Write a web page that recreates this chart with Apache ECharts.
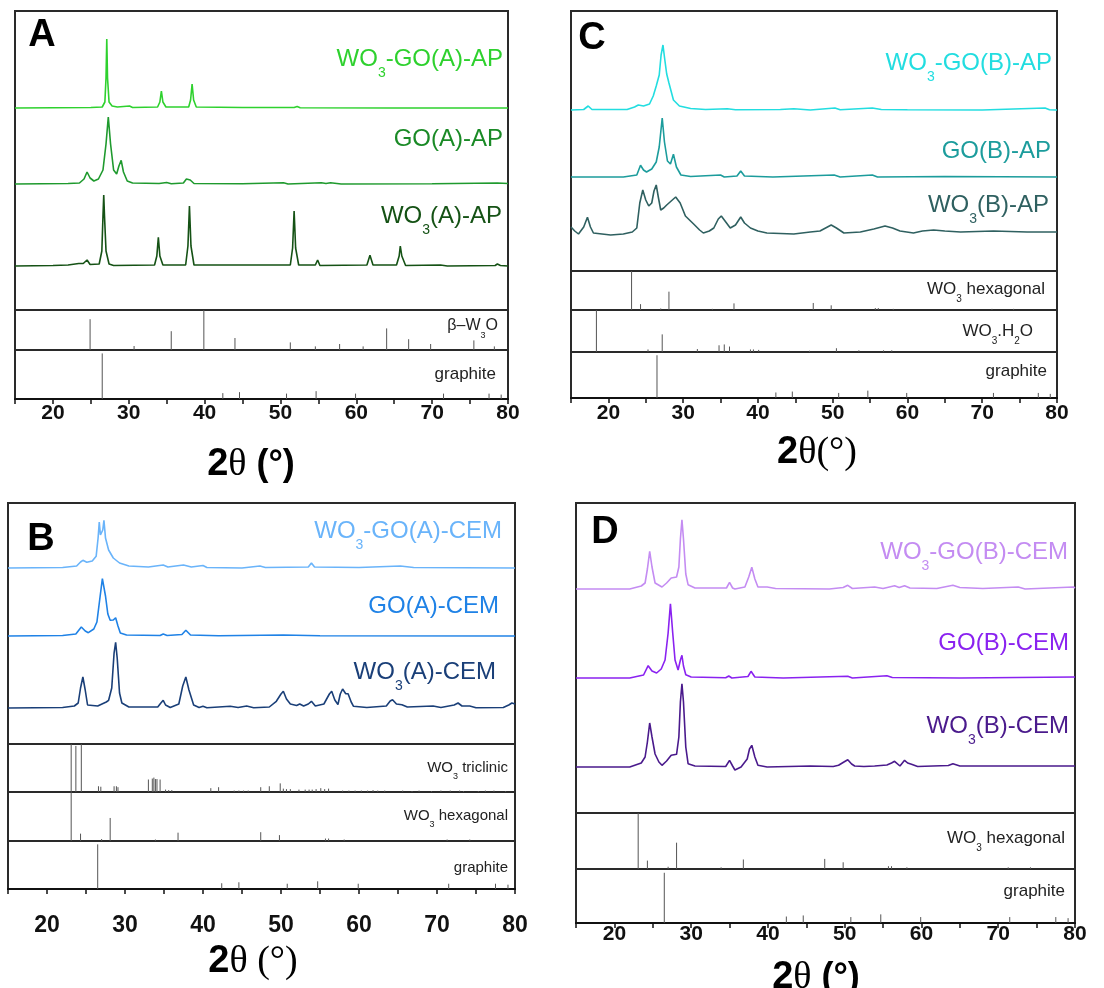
<!DOCTYPE html>
<html><head><meta charset="utf-8">
<script src="https://cdn.jsdelivr.net/npm/echarts@6/dist/echarts.min.js"></script>
<style>html,body{margin:0;padding:0;background:#fff}#c{width:1104px;height:988px}</style>
</head><body><div id="c"></div>
<script>
// ---------------- DATA (2θ in degrees, intensity in arbitrary units) ----------------
// Panel A traces
const WO3_GO_A_AP = [[15,0],[25,0.5],[26.5,1],[26.85,6],[27.0,30],[27.1,69],[27.2,30],[27.4,6],[27.8,2],[28.5,1],[30.1,2],[30.5,0.5],[33.8,1],[34.1,6],[34.3,17],[34.5,6],[34.9,1],[37.9,1],[38.15,8],[38.35,24],[38.55,8],[38.9,1],[45,0.5],[51.8,0.5],[52.2,1.5],[52.6,0.3],[65,0],[80,0]];
const GO_A_AP = [[15,0],[22,0.5],[23.5,1],[24.1,5],[24.5,12],[24.9,6],[25.4,3],[26.0,5],[26.6,14],[27.0,40],[27.3,67],[27.6,40],[28.0,14],[28.4,10],[28.7,18],[29.0,23.7],[29.3,12],[29.8,3],[30.5,1],[34,0.5],[35,1.5],[35.6,0.3],[37.2,1],[37.6,5],[37.8,6.7],[38.1,4],[38.6,0.5],[45,0.3],[50.4,1.2],[51,0],[55.4,1.2],[56,0.5],[56.6,1.2],[58,0],[70,0.2],[78.6,1],[80,0.5]];
const WO3_A_AP = [[15,0],[20,0.5],[22,1],[23.4,2.5],[24,2.5],[24.5,6],[24.9,1.5],[26.1,2],[26.45,15],[26.6,50],[26.7,71],[26.8,50],[27.0,15],[27.4,2],[28,0.5],[33.4,1],[33.7,10],[33.9,28.7],[34.1,10],[34.5,1],[37.5,1],[37.8,20],[38.0,60],[38.2,20],[38.6,1],[51.3,1],[51.6,18],[51.8,55],[52.0,18],[52.4,1],[54.6,1],[54.9,6],[55.2,0.5],[61.4,1],[61.8,10.7],[62.2,1],[65.3,1],[65.65,10],[65.8,20],[66.0,10],[66.5,0.5],[71.1,1],[72,0],[78.3,0.5],[78.6,2],[79,0.5],[80,0]];
// Panel C traces
const WO3_GO_B_AP = [[15,0],[16.7,0.5],[17.3,4],[17.8,0.5],[22.5,0.5],[23.5,3],[24.0,5],[24.7,4],[25.5,6],[26.0,14],[26.4,24],[26.8,35],[27.05,55],[27.3,65],[27.55,50],[27.8,36],[28.1,27],[28.7,10],[29.5,4],[31,1.5],[33,0.5],[35.9,1.2],[37,0.3],[43,0.5],[44.8,1.2],[47,0],[50.3,2],[51,0.3],[55.3,2],[56.5,0.5],[60,0.3],[70,0],[78.4,2],[79,0.3],[80,0]];
const GO_B_AP = [[15,0],[22,0],[23.8,2],[24.3,11.7],[24.7,7],[25.1,5],[25.8,8],[26.4,15],[26.8,30],[27.2,59],[27.5,35],[27.9,16],[28.3,13],[28.7,22.7],[29.1,10],[29.7,2],[31,0.5],[35.0,2],[35.5,0],[37.2,1],[37.7,6],[38.2,1],[42,0],[50.2,2],[51,0],[55.3,2],[56,0],[65,0.5],[80,0]];
const WO3_B_AP = [[15,6],[15.5,2],[16.0,-1],[16.7,6],[17.2,15.7],[17.6,6],[18.0,0],[20.3,-2],[22,-1],[23.2,1],[23.8,5],[24.2,30],[24.6,43],[25.0,33],[25.4,27],[25.8,30],[26.1,42],[26.4,48],[26.7,35],[27.0,23],[27.4,25],[27.8,28],[28.4,32],[29.0,36],[29.6,30],[30.3,17],[31.4,9],[32.2,3],[32.7,0],[33.5,2],[34.1,5],[34.7,14],[35.1,17],[35.6,12],[36.3,5],[37.0,8],[37.7,16],[38.2,10],[39.0,5],[40,2],[41.2,0],[44.8,-1],[47,1],[48.3,2],[49.3,6],[49.8,8],[50.5,5],[51.5,0],[53.7,1],[55.5,4],[57.0,7],[58,5],[59.0,2],[60.8,0],[62,2],[63.5,3],[65,2],[67.1,1],[71.5,2],[76.0,1],[79.8,1],[80,1]];
// Panel B traces
const WO3_GO_A_CEM = [[15,0],[22,0.5],[23.8,2],[24.3,6],[24.6,7.7],[25.1,5.7],[25.8,7],[26.3,11.7],[26.55,30],[26.7,46],[26.85,33],[27.0,31.7],[27.15,38],[27.3,47.7],[27.5,30],[27.9,18],[28.5,10],[29.3,5],[30.5,2],[33,1],[34.9,3],[35.5,1],[37.5,3],[38.5,1],[40.0,2.5],[40.5,0.5],[45,0],[47.3,2],[48,0.5],[53.5,1],[53.9,5],[54.3,1],[60,0.5],[65.3,2],[67,0.5],[80,0]];
const GO_A_CEM = [[15,0],[22,0.5],[23.7,2],[24.4,9],[24.9,5],[25.3,3.3],[26.0,7],[26.4,14],[26.8,39],[27.1,57.3],[27.5,40],[27.8,22],[28.1,15.7],[28.5,16],[28.8,18.3],[29.1,10],[29.4,3],[30.2,1],[34.5,0.5],[34.9,2],[35.4,0.5],[37.3,1.5],[37.8,5.7],[38.4,1],[42,0.3],[50.3,1],[55,0.3],[80,0]];
const WO3_A_CEM = [[15,0],[22,0.5],[23.5,2],[24.0,5],[24.3,20],[24.6,31],[24.9,18],[25.2,3],[26.5,2],[27.6,6],[27.9,7.7],[28.3,20],[28.6,55],[28.8,65.7],[29.0,50],[29.3,15],[29.6,5],[30.5,1],[34.2,1],[34.6,5],[34.9,7.7],[35.2,3],[35.8,0.5],[36.9,4],[37.4,22],[37.8,31],[38.2,18],[38.8,3],[39.5,0.5],[40.0,1.7],[40.5,0.3],[43.5,1.7],[44.5,0.5],[45.6,2],[46.5,0.3],[48.5,1],[49.4,6.7],[50.0,14],[50.3,16.7],[50.7,9],[51.2,4],[51.6,3.3],[52.0,2.5],[52.4,4],[52.9,2],[53.5,4],[53.9,6.7],[54.4,2],[55.5,4],[56.2,14],[56.5,16.7],[56.9,8],[57.3,3.5],[57.6,14],[57.9,19],[58.3,14.3],[58.6,14.3],[59.0,6],[59.3,1.7],[61,0.5],[63.5,2],[64.0,7],[64.3,8.3],[64.8,4],[65.5,3.3],[66.2,1],[69.5,2],[70.5,0.5],[72.2,3],[72.7,5],[73.2,2],[74.2,2],[75,0.3],[78.5,0.5],[79.2,3],[79.6,5],[80,4]];
// Panel D traces
const WO3_GO_B_CEM = [[15,0],[22,0],[23.5,3],[24.0,6],[24.3,20],[24.6,37.7],[24.9,22],[25.3,6],[26.2,2],[26.8,6],[27.4,11],[28.1,12],[28.4,22],[28.6,50],[28.8,69.3],[29.0,50],[29.3,15],[29.6,4.3],[30.5,1],[34.6,1],[35.0,6.7],[35.4,1],[35.7,0],[37.0,2],[37.5,12],[37.9,21.7],[38.3,10],[38.7,2],[39.9,2],[41,0.5],[48,0],[49.8,1.5],[50.4,3.7],[51,0.5],[53.9,2],[55,0.5],[56.5,3.3],[57.1,1.5],[57.8,3.3],[58.5,1],[62,0.5],[64.1,3.7],[65,1.5],[68,0.5],[72.6,2],[73.5,0],[79.8,2],[80,1]];
const GO_B_CEM = [[15,0],[22,0],[23.8,3],[24.4,12.3],[24.9,7],[25.5,5],[26.1,9],[26.6,18],[27.0,45],[27.3,74.3],[27.6,45],[27.9,18],[28.3,8],[28.6,18],[28.8,22.7],[29.0,12],[29.3,3.3],[30,1],[34.5,0.3],[34.9,2],[35.3,0],[37.4,1.5],[37.8,6.7],[38.3,1],[42,0],[50.4,1.7],[51,0],[55.5,2.3],[56.2,0.5],[65,0],[80,1]];
const WO3_B_CEM = [[15,0],[22,0],[23.5,4],[24.0,10],[24.3,25],[24.6,44],[24.9,30],[25.3,13],[25.8,5],[26.2,1.7],[26.8,6],[27.4,11.7],[28.1,12.7],[28.4,30],[28.6,65],[28.8,83.3],[29.0,65],[29.3,20],[29.6,3.3],[30.5,1],[34.5,0.5],[35.0,6.7],[35.4,1],[35.7,-3],[36.5,0],[37.3,8],[37.6,18],[37.9,21.7],[38.3,10],[38.7,1.7],[39.9,0],[45.5,1],[48.5,0.5],[49.2,1.7],[49.9,5],[50.4,7.3],[50.9,3],[51.3,1],[52.5,0.5],[53.9,1],[55.5,2],[56.1,4],[56.5,5.7],[57.2,1],[57.8,6.7],[58.2,4],[58.7,2.7],[59.5,0.5],[63.5,1.5],[64.1,3.3],[65,1],[72.6,1],[79.8,1],[80,1]];
// Reference patterns (2θ, relative intensity %)
const REF_GRAPHITE = [[26.5,93],[42.4,12],[44.6,14],[50.8,11],[54.7,16],[59.9,11],[71.5,11],[77.5,11],[79.1,9]];
const REF_BETA_W3O = [[24.9,77],[30.7,10],[35.6,47],[39.9,100],[44.0,30],[51.3,19],[54.6,9],[57.8,15],[60.9,9],[64.0,54],[66.9,27],[69.8,15],[75.5,24],[78.2,9]];
const REF_WO3_HEX = [[23.1,100],[24.3,15],[27.0,4],[28.1,47],[33.9,3],[36.8,17],[47.4,18],[49.8,12],[55.7,5],[56.1,5],[58.1,3],[71.3,3],[74.2,3]];
const REF_WO3_H2O = [[18.4,100],[25.3,6],[27.2,42],[31.9,7],[34.8,16],[35.5,18],[36.2,13],[39.0,6],[39.4,6],[40.1,5],[46.9,3],[50.5,9],[53.5,4],[56.8,4],[57.9,4]];
const REF_WO3_TRI = [[23.1,100],[23.7,96],[24.4,100],[26.6,12],[26.9,11],[28.6,12],[28.9,12],[29.1,10],[33.0,26],[33.5,28],[33.7,30],[33.9,27],[34.1,27],[34.5,26],[35.2,5],[35.6,4],[36.0,4],[41.0,8],[42.0,10],[44.0,3],[44.6,3],[45.2,3],[45.8,3],[47.4,10],[48.5,12],[49.9,18],[50.3,7],[50.7,6],[51.2,6],[52.3,5],[53.1,5],[53.6,5],[54.0,5],[54.5,6],[55.1,8],[55.6,6],[56.1,7],[57.9,3],[58.7,3],[59.5,3],[60.3,3],[61.1,3],[61.8,4],[62.4,3],[63.3,3],[65.6,3],[66.8,2],[67.7,3],[69.3,2],[70.5,3],[71.7,3],[72.9,3],[73.4,2],[75.3,2],[76.2,3],[77.3,3],[78.8,2]];
// Tick labels shown on the 2θ axes
const TICK_LABELS = [20,30,40,50,60,70,80];

// ---------------- BUILD ----------------
const SANS = "'Liberation Sans', Arial, Helvetica, sans-serif";
const SERIF = "'Liberation Serif', 'Times New Roman', serif";
const grids = [], xAxes = [], yAxes = [], series = [], graphics = [];

function addGrid(l, t, w, h, ymax, axisOpt) {
  const i = grids.length;
  grids.push({left:l, top:t, width:w, height:h, show:true, borderColor:'#2a2a2a', borderWidth:2,
    backgroundColor:'transparent', containLabel:false, outerBoundsMode:'none'});
  xAxes.push({gridIndex:i, type:'value', min:15, max:80, interval:5, show:!!axisOpt,
    axisLine:{show:true, onZero:false, lineStyle:{color:'#111', width:2}},
    axisTick:{show:true, inside:false, length:5, lineStyle:{color:'#111', width:1.5}},
    splitLine:{show:false},
    axisLabel:{show:true, margin: axisOpt ? axisOpt.margin : 6, fontSize: axisOpt ? axisOpt.size : 20,
      fontWeight:'bold', color:'#111', fontFamily:SANS, hideOverlap:false,
      formatter: v => TICK_LABELS.indexOf(v) >= 0 ? String(v) : ''}});
  yAxes.push({gridIndex:i, type:'value', min:0, max:ymax, show:false, splitLine:{show:false}});
  return i;
}
function addTrace(gi, data, off, color) {
  series.push({type:'line', xAxisIndex:gi, yAxisIndex:gi, data:data.map(p => [p[0], p[1] + off]),
    showSymbol:false, symbol:'none', silent:true, animation:false, clip:true,
    lineStyle:{color:color, width:1.6}});
}
function addSticks(gi, data) {
  series.push({type:'custom', xAxisIndex:gi, yAxisIndex:gi, data:data, silent:true, animation:false, clip:true,
    renderItem:(params, api) => {
      const p0 = api.coord([api.value(0), 0]);
      const p1 = api.coord([api.value(0), api.value(1)]);
      return {type:'line', shape:{x1:p0[0], y1:p0[1], x2:p1[0], y2:p1[1]}, style:{stroke:'#555', lineWidth:1}};
    }});
}
// rich label with optional subscripts; parts: array of [text, isSub]
function richLabel(rightX, capCenterY, parts, color, size) {
  const subSize = Math.round(size * 0.58);
  const H = Math.round(size * 1.36);
  const txt = parts.map(p => (p[1] ? '{s|' : '{n|') + p[0] + '}').join('');
  graphics.push({type:'text', x:rightX, y:capCenterY - size / 2 + size * 0.25, silent:true, z:100,
    style:{text:txt, textAlign:'right', textVerticalAlign:'top', fill:color,
      rich:{
        n:{fontSize:size, fontFamily:SANS, fill:color, lineHeight:size, padding:[0,0,H - size,0]},
        s:{fontSize:subSize, fontFamily:SANS, fill:color, lineHeight:subSize, padding:[H - subSize,0,0,0]}
      }}});
}
function panelLetter(cx, cy, ch) {
  graphics.push({type:'text', x:cx, y:cy, silent:true, z:100,
    style:{text:ch, textAlign:'center', textVerticalAlign:'middle', fill:'#000',
      font:"bold 38px " + SANS, shadowBlur:4, shadowColor:'rgba(0,0,0,0.55)', shadowOffsetX:2, shadowOffsetY:2}});
}
function axisTitle(cx, cy, thetaSerifParen, spaced) {
  const tail = spaced ? ' (°)' : '(°)';
  graphics.push({type:'text', x:cx, y:cy, silent:true, z:100,
    style:{text:'{a|2}{b|θ}{c|' + tail + '}', textAlign:'center', textVerticalAlign:'middle', fill:'#000',
      rich:{
        a:{fontSize:38, fontWeight:'bold', fontFamily:SANS, fill:'#000'},
        b:{fontSize:38, fontFamily:SERIF, fill:'#000'},
        c: thetaSerifParen ? {fontSize:38, fontFamily:SERIF, fill:'#000'} : {fontSize:36, fontWeight:'bold', fontFamily:SANS, fill:'#000'}
      }}});
}

// ---- Panel A ----
let g = addGrid(15, 11, 493, 299, 299, null);
addTrace(g, WO3_A_AP, 44, '#155215');
addTrace(g, GO_A_AP, 126, '#1f9a2e');
addTrace(g, WO3_GO_A_AP, 202, '#2ed12e');
g = addGrid(15, 310, 493, 40, 100, null); addSticks(g, REF_BETA_W3O);
g = addGrid(15, 350, 493, 49, 100, {margin:4, size:21}); addSticks(g, REF_GRAPHITE);
richLabel(503, 58, [['WO',0],['3',1],['-GO(A)-AP',0]], '#2ed12e', 24);
richLabel(503, 138, [['GO(A)-AP',0]], '#1a8a26', 24);
richLabel(502, 215, [['WO',0],['3',1],['(A)-AP',0]], '#155215', 24);
richLabel(498, 325, [['β–W',0],['3',1],['O',0]], '#222', 16);
richLabel(496, 373, [['graphite',0]], '#222', 17);
panelLetter(42, 36, 'A');
axisTitle(251, 465, false, true);

// ---- Panel C ----
g = addGrid(571, 11, 486, 260, 260, null);
addTrace(g, WO3_B_AP, 38, '#2f6060');
addTrace(g, GO_B_AP, 94, '#1c9c9c');
addTrace(g, WO3_GO_B_AP, 161, '#22dde0');
g = addGrid(571, 271, 486, 39, 100, null); addSticks(g, REF_WO3_HEX);
g = addGrid(571, 310, 486, 42, 100, null); addSticks(g, REF_WO3_H2O);
g = addGrid(571, 352, 486, 46, 100, {margin:5, size:21}); addSticks(g, REF_GRAPHITE);
richLabel(1052, 62, [['WO',0],['3',1],['-GO(B)-AP',0]], '#22dde0', 24);
richLabel(1051, 150, [['GO(B)-AP',0]], '#1c9c9c', 24);
richLabel(1049, 204, [['WO',0],['3',1],['(B)-AP',0]], '#2f6060', 24);
richLabel(1045, 288, [['WO',0],['3',1],[' hexagonal',0]], '#222', 17);
richLabel(1033, 330, [['WO',0],['3',1],['.H',0],['2',1],['O',0]], '#222', 17);
richLabel(1047, 370, [['graphite',0]], '#222', 17);
panelLetter(592, 39, 'C');
axisTitle(817, 453, true, false);

// ---- Panel B ----
g = addGrid(8, 503, 507, 241, 241, null);
addTrace(g, WO3_A_CEM, 36, '#1a3f78');
addTrace(g, GO_A_CEM, 108, '#1f82e6');
addTrace(g, WO3_GO_A_CEM, 176, '#6ab4fa');
g = addGrid(8, 744, 507, 48, 100, null); addSticks(g, REF_WO3_TRI);
g = addGrid(8, 792, 507, 49, 100, null); addSticks(g, REF_WO3_HEX);
g = addGrid(8, 841, 507, 48, 100, {margin:25, size:23}); addSticks(g, REF_GRAPHITE);
richLabel(502, 530, [['WO',0],['3',1],['-GO(A)-CEM',0]], '#6ab4fa', 24);
richLabel(499, 605, [['GO(A)-CEM',0]], '#1f82e6', 24);
richLabel(496, 671, [['WO',0],['3',1],['(A)-CEM',0]], '#1a3f78', 24);
richLabel(508, 767, [['WO',0],['3',1],[' triclinic',0]], '#222', 15);
richLabel(508, 815, [['WO',0],['3',1],[' hexagonal',0]], '#222', 15);
richLabel(508, 867, [['graphite',0]], '#222', 15);
panelLetter(41, 540, 'B');
axisTitle(253, 962, true, true);

// ---- Panel D ----
g = addGrid(576, 503, 499, 310, 310, null);
addTrace(g, WO3_B_CEM, 46, '#4a1a8c');
addTrace(g, GO_B_CEM, 135, '#8a22f0');
addTrace(g, WO3_GO_B_CEM, 224, '#c48cf2');
g = addGrid(576, 813, 499, 56, 100, null); addSticks(g, REF_WO3_HEX);
g = addGrid(576, 869, 499, 54, 100, {margin:1, size:21}); addSticks(g, REF_GRAPHITE);
richLabel(1068, 551, [['WO',0],['3',1],['-GO(B)-CEM',0]], '#c48cf2', 24);
richLabel(1069, 642, [['GO(B)-CEM',0]], '#8a22f0', 24);
richLabel(1069, 725, [['WO',0],['3',1],['(B)-CEM',0]], '#4a1a8c', 24);
richLabel(1065, 837, [['WO',0],['3',1],[' hexagonal',0]], '#222', 17);
richLabel(1065, 890, [['graphite',0]], '#222', 17);
panelLetter(605, 533, 'D');
axisTitle(816, 978, false, true);

const chart = echarts.init(document.getElementById('c'), null, {renderer:'canvas'});
chart.setOption({
  animation:false, backgroundColor:'#fff',
  grid:grids, xAxis:xAxes, yAxis:yAxes, series:series, graphic:{elements:graphics}
});
</script></body></html>
